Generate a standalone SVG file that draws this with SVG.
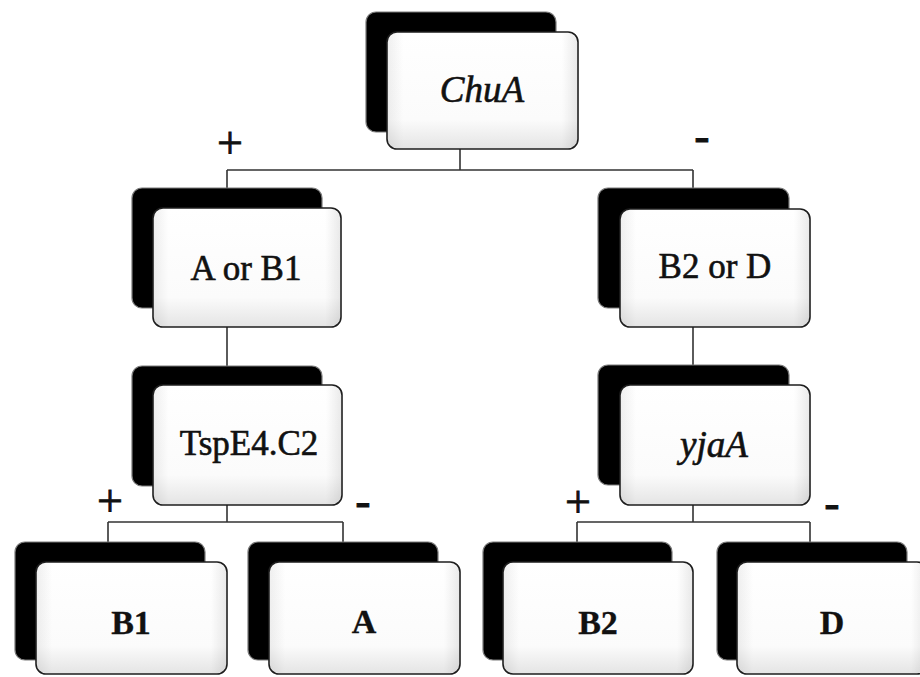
<svg xmlns="http://www.w3.org/2000/svg" width="920" height="677" viewBox="0 0 920 677">
  <defs>
    <linearGradient id="faceFill" x1="0" y1="0" x2="0" y2="1">
      <stop offset="0" stop-color="#ffffff"/>
      <stop offset="0.75" stop-color="#fbfbfb"/>
      <stop offset="1" stop-color="#e4e4e4"/>
    </linearGradient>
    <linearGradient id="sideShade" x1="0" y1="0" x2="1" y2="0">
      <stop offset="0" stop-color="#000" stop-opacity="0.06"/>
      <stop offset="0.08" stop-color="#000" stop-opacity="0"/>
      <stop offset="0.92" stop-color="#000" stop-opacity="0"/>
      <stop offset="1" stop-color="#000" stop-opacity="0.08"/>
    </linearGradient>
  </defs>
  <style>
    .back { fill: #000; stroke: #7a7a7a; stroke-width: 1.2; }
    .face { fill: url(#faceFill); stroke: #1e1e1e; stroke-width: 1.6; }
    .shade { fill: url(#sideShade); stroke: none; }
    .lbl { font-family: "Liberation Serif", "Times New Roman", serif; font-size: 35px; fill: #111; stroke: #111; stroke-width: 0.6; text-anchor: middle; }
    .gene { font-style: italic; font-size: 37px; }
    .leaf { font-weight: bold; font-size: 34px; stroke-width: 0.3; }
    .sign { font-family: "Liberation Serif", "Times New Roman", serif; font-size: 46px; fill: #111; stroke: #111; stroke-width: 0.8; text-anchor: middle; }
    .wire { fill: none; stroke: #333; stroke-width: 1.6; }
  </style>

  <rect width="920" height="677" fill="#fff"/>

  <!-- connectors -->
  <g id="connectors" class="wire">
    <path d="M460 149 V170 M227 170 H693 M227 170 V188 M693 170 V188"/>
    <path d="M227 327 V366"/>
    <path d="M693 327 V365"/>
    <path d="M227 505 V522 M108 522 H343 M108 522 V542 M343 522 V542"/>
    <path d="M693 505 V522 M577 522 H810 M577 522 V542 M810 522 V542"/>
  </g>

  <!-- branch signs -->
  <g id="signs">
    <text class="sign" x="230" y="158">+</text>
    <text class="sign" x="702" y="151">-</text>
    <text class="sign" x="110" y="516">+</text>
    <text class="sign" x="363" y="516">-</text>
    <text class="sign" x="578" y="517">+</text>
    <text class="sign" x="832" y="518">-</text>
  </g>

  <!-- nodes: dark back card + light front card -->
  <g id="node-chuA">
    <rect class="back" x="366" y="12" width="190" height="120" rx="10"/>
    <rect class="face" x="387" y="32" width="191" height="117" rx="10"/>
    <rect class="shade" x="388" y="33" width="189" height="115" rx="9"/>
    <text class="lbl gene" x="482" y="102">ChuA</text>
  </g>

  <g id="node-aorb1">
    <rect class="back" x="132" y="188" width="190" height="120" rx="10"/>
    <rect class="face" x="153" y="208" width="188" height="119" rx="10"/>
    <rect class="shade" x="154" y="209" width="186" height="117" rx="9"/>
    <text class="lbl" x="246" y="280">A or B1</text>
  </g>

  <g id="node-b2ord">
    <rect class="back" x="598" y="188" width="191" height="120" rx="10"/>
    <rect class="face" x="620" y="209" width="190" height="118" rx="10"/>
    <rect class="shade" x="621" y="210" width="188" height="116" rx="9"/>
    <text class="lbl" x="715" y="278">B2 or D</text>
  </g>

  <g id="node-tspe4">
    <rect class="back" x="132" y="366" width="190" height="120" rx="10"/>
    <rect class="face" x="153" y="385" width="189" height="120" rx="10"/>
    <rect class="shade" x="154" y="386" width="187" height="118" rx="9"/>
    <text class="lbl" x="249" y="455">TspE4.C2</text>
  </g>

  <g id="node-yjaA">
    <rect class="back" x="598" y="365" width="191" height="120" rx="10"/>
    <rect class="face" x="620" y="385" width="190" height="120" rx="10"/>
    <rect class="shade" x="621" y="386" width="188" height="118" rx="9"/>
    <text class="lbl gene" x="714" y="457">yjaA</text>
  </g>

  <g id="node-b1">
    <rect class="back" x="15" y="542" width="190" height="118" rx="10"/>
    <rect class="face" x="36" y="562" width="191" height="112" rx="10"/>
    <rect class="shade" x="37" y="563" width="189" height="110" rx="9"/>
    <text class="lbl leaf" x="131" y="634">B1</text>
  </g>

  <g id="node-a">
    <rect class="back" x="248" y="542" width="190" height="118" rx="10"/>
    <rect class="face" x="269" y="562" width="191" height="112" rx="10"/>
    <rect class="shade" x="270" y="563" width="189" height="110" rx="9"/>
    <text class="lbl leaf" x="364" y="633">A</text>
  </g>

  <g id="node-b2">
    <rect class="back" x="483" y="542" width="189" height="118" rx="10"/>
    <rect class="face" x="503" y="562" width="190" height="112" rx="10"/>
    <rect class="shade" x="504" y="563" width="188" height="110" rx="9"/>
    <text class="lbl leaf" x="598" y="634">B2</text>
  </g>

  <g id="node-d">
    <rect class="back" x="717" y="542" width="190" height="118" rx="10"/>
    <rect class="face" x="737" y="562" width="190" height="112" rx="10"/>
    <rect class="shade" x="738" y="563" width="188" height="110" rx="9"/>
    <text class="lbl leaf" x="832" y="634">D</text>
  </g>
</svg>
